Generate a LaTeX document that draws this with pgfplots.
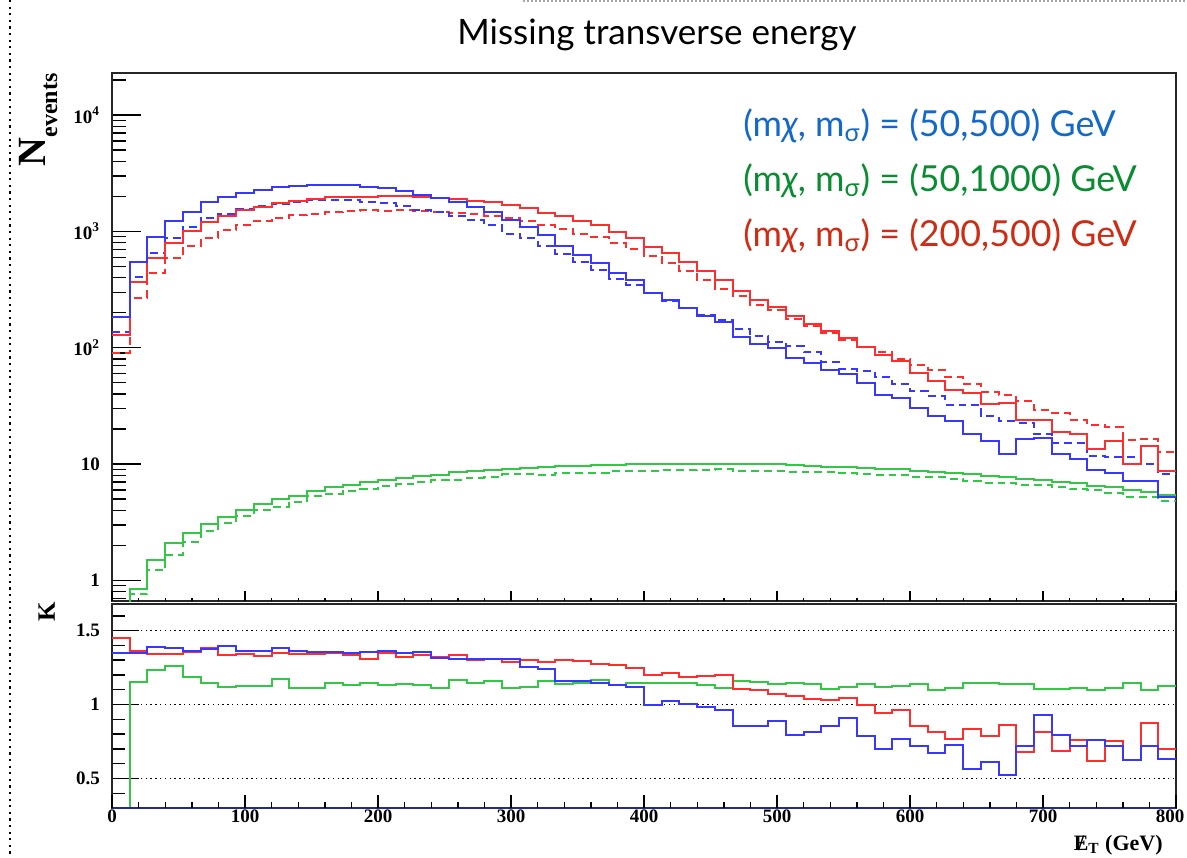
\documentclass[border=0pt]{standalone}
\usepackage{fontspec}
\setmainfont{Liberation Serif}
\newfontfamily\gill{Lato}
\usepackage{pgfplots}
\usepackage{pgfplotstable}
\pgfplotsset{compat=1.18}
\definecolor{hblue}{RGB}{55,55,255}
\definecolor{hred}{RGB}{255,45,45}
\definecolor{hgreen}{RGB}{50,200,70}
\definecolor{tblue}{RGB}{20,105,200}
\definecolor{tgreen}{RGB}{10,140,50}
\definecolor{tred}{RGB}{205,45,20}
\definecolor{navy}{RGB}{40,40,140}

\pgfplotstableread{
x bs bd rs rd gs gd kb kr kg
0 183 136 130 89.5 0.1 0.1 1.346 1.453 0
13.333 545 405 367 269 0.85 0.76 1.346 1.362 1.154
26.667 904 651 590 440 1.50 1.22 1.389 1.34 1.233
40 1224 884 793 590 2.09 1.66 1.385 1.345 1.26
53.333 1482 1088 1012 747 2.54 2.14 1.362 1.355 1.186
66.667 1780 1295 1217 879 3.06 2.68 1.374 1.385 1.143
80 1990 1425 1361 1021 3.49 3.12 1.396 1.333 1.118
93.333 2126 1561 1532 1143 4.04 3.6 1.362 1.34 1.122
106.667 2271 1667 1634 1230 4.54 4.03 1.362 1.328 1.126
120 2393 1734 1771 1312 5.01 4.28 1.38 1.35 1.17
133.333 2456 1806 1840 1373 5.28 4.74 1.36 1.34 1.113
146.667 2506 1849 1903 1416 5.91 5.31 1.355 1.344 1.113
160 2506 1849 1978 1465 6.31 5.52 1.355 1.35 1.143
173.333 2506 1856 1978 1485 6.65 5.89 1.35 1.332 1.129
186.667 2427 1791 1990 1524 6.96 6.07 1.355 1.306 1.147
200 2378 1746 2031 1504 7.3 6.47 1.362 1.35 1.129
213.333 2228 1655 2031 1534 7.6 6.69 1.346 1.324 1.136
226.667 2058 1519 1990 1494 7.9 7.0 1.355 1.332 1.129
240 1926 1462 1950 1473 8.1 7.28 1.317 1.324 1.113
253.333 1780 1359 1903 1429 8.47 7.27 1.31 1.332 1.165
266.667 1624 1243 1840 1416 8.64 7.56 1.306 1.299 1.143
280 1482 1135 1780 1359 8.89 7.68 1.306 1.31 1.158
293.333 1257 960 1680 1302 9.06 8.14 1.31 1.29 1.113
306.667 1101 879 1600 1230 9.24 8.25 1.253 1.301 1.12
320 935 755 1452 1127 9.4 8.12 1.238 1.288 1.158
333.333 743 642 1360 1045 9.55 8.41 1.158 1.301 1.136
346.667 630 544 1233 953 9.7 8.46 1.158 1.294 1.147
360 535 468 1138 895 9.8 8.43 1.143 1.272 1.163
373.333 439 389 998 789 9.9 8.77 1.129 1.265 1.129
386.667 385 344 887 710 10.0 8.75 1.12 1.25 1.143
400 296 296 742 620 10.05 8.79 1.0 1.197 1.143
413.333 259 252 651 536 10.1 8.84 1.027 1.215 1.143
426.667 220 219 542 456 10.1 8.84 1.005 1.188 1.143
440 187 190 453 380 10.1 8.95 0.984 1.192 1.129
453.333 166 173 385 322 10.05 9.03 0.962 1.197 1.113
466.667 124 145 305 277 10.05 8.68 0.853 1.102 1.158
480 108 127 259 235 10.0 8.7 0.853 1.1 1.15
493.333 100 113 224 210 10.0 8.8 0.887 1.068 1.136
506.667 82 103 187 177 9.9 8.63 0.796 1.057 1.147
520 74.3 91.5 160 154 9.7 8.54 0.812 1.038 1.136
533.333 63.9 74.9 139 135 9.5 8.62 0.853 1.029 1.102
546.667 59.8 65.7 122 117 9.4 8.39 0.91 1.041 1.12
560 50 63.7 102 102 9.3 8.16 0.785 1.0 1.14
573.333 39.3 56 87.5 92.8 9.1 8.13 0.701 0.943 1.12
586.667 37.3 48.6 76.8 79.8 9.0 8.0 0.767 0.962 1.124
600 30.6 42.7 61 71.5 8.8 7.75 0.717 0.853 1.136
613.333 25.9 38.5 51.8 63.8 8.5 7.75 0.672 0.812 1.097
626.667 23.5 32.5 43 56.1 8.35 7.5 0.724 0.767 1.113
640 18.1 32.1 41 49.1 8.2 7.15 0.563 0.835 1.147
653.333 15.8 25.9 33 41.8 7.95 6.93 0.611 0.79 1.147
666.667 12.2 23.5 33.7 39 7.8 6.87 0.52 0.864 1.136
680 16.4 22.7 23.8 35.2 7.5 6.6 0.722 0.677 1.136
693.333 16.9 18.2 23.8 29.3 7.3 6.6 0.928 0.812 1.106
706.667 12.2 15.3 18.7 27.4 7.05 6.4 0.796 0.683 1.102
720 11.0 15.3 18.3 24 6.85 6.15 0.717 0.762 1.113
733.333 8.9 11.7 13.4 21.6 6.5 5.93 0.758 0.62 1.097
746.667 8.3 11.5 15.8 21 6.3 5.66 0.722 0.751 1.113
760 7.2 11.5 10.1 16.1 6.0 5.23 0.626 0.626 1.147
773.333 7.2 10.0 14.3 16.3 5.7 5.2 0.722 0.876 1.097
786.667 5.2 8.2 8.8 12.6 5.4 4.8 0.633 0.701 1.124
800 5.2 8.2 8.8 12.6 5.4 4.8 0.633 0.701 1.124
}\data

\begin{document}
\begin{tikzpicture}
\useasboundingbox (0,0) rectangle (593.5pt,428.5pt);
\pgfplotsset{
  every axis/.append style={
    scale only axis, width=532pt, xmin=0, xmax=800,
    axis line style={line width=0.9pt, black!85},
    tick style={line width=0.7pt, black},
    tick align=inside,
    ticklabel style={font=\fontsize{9.5}{9.5}\selectfont\bfseries},
  },
  hist/.style={const plot mark left, line width=1pt, mark=none},
  dsh/.style={dash pattern=on 4pt off 2.5pt},
}
% ---------------- top panel ----------------
\begin{axis}[at={(56pt,128pt)}, anchor=south west, height=264pt,
  ymode=log, ymin=0.665, ymax=23040,
  xtick=\empty, ytick pos=left,
  ytick={1,10,100,1000,10000},
  yticklabels={1,10,10\textsuperscript{2},10\textsuperscript{3},10\textsuperscript{4}},
  minor ytick={0.7,0.8,0.9,2,3,...,9,20,30,...,90,200,300,...,900,2000,3000,...,9000,20000},
  major tick length=14.5pt, minor tick length=7pt,
  yticklabel style={xshift=-2.5pt}]
\addplot[hist, hgreen, dsh] table[x=x,y=gd]{\data};
\addplot[hist, hgreen] table[x=x,y=gs]{\data};
\addplot[hist, hred, dsh] table[x=x,y=rd]{\data};
\addplot[hist, hblue, dsh] table[x=x,y=bd]{\data};
\addplot[hist, hred] table[x=x,y=rs]{\data};
\addplot[hist, hblue] table[x=x,y=bs]{\data};
\end{axis}
\begin{axis}[at={(56pt,128pt)}, anchor=south west, height=264pt,
  ymin=0, ymax=1, ytick=\empty, axis line style={draw=none},
  xtick={0,100,...,800}, minor x tick num=4, xticklabels=\empty, xtick pos=left,
  major tick length=5pt, minor tick length=1.5pt]
\end{axis}
% ---------------- bottom panel ----------------
\begin{axis}[at={(56pt,24.5pt)}, anchor=south west, height=102pt,
  ymin=0.3, ymax=1.68, xtick=\empty, ytick pos=left,
  ytick={0.5,1,1.5}, yticklabels={0.5,1,1.5},
  minor ytick={0.4,0.6,0.7,0.8,0.9,1.1,1.2,1.3,1.4,1.6},
  major tick length=13.5pt, minor tick length=6.5pt,
  ymajorgrids, major grid style={black, line width=0.6pt, dash pattern=on 0.7pt off 1.7pt},
  yticklabel style={xshift=-2.5pt}]
\addplot[hist, hgreen] table[x=x,y=kg]{\data};
\addplot[hist, hred] table[x=x,y=kr]{\data};
\addplot[hist, hblue] table[x=x,y=kb]{\data};
\addplot[navy, line width=1.2pt] coordinates {(0,0.3) (800,0.3)};
\end{axis}
\begin{axis}[at={(56pt,24.5pt)}, anchor=south west, height=102pt,
  ymin=0, ymax=1, ytick=\empty, axis line style={draw=none},
  xtick={0,100,...,800}, minor x tick num=4, xtick pos=left,
  xticklabels={0,100,200,300,400,500,600,700,\makebox[0pt]{\hspace{-6pt}800}},
  xticklabel style={yshift=2.5pt},
  major tick length=6.5pt, minor tick length=3pt]
\end{axis}
% ---------------- texts (pixel coordinates) ----------------
\begin{scope}[x=0.5pt, y=-0.5pt, yshift=428.5pt]
\draw[black, line width=1.1pt, dash pattern=on 1.1pt off 2.2pt] (10,0) -- (10,857);
\draw[black!35, line width=0.6pt, dash pattern=on 0.8pt off 1.2pt] (523,1) -- (1187,1);
\node[anchor=base, inner sep=0] at (657,45) {\gill\fontsize{17.5}{17.5}\selectfont Missing transverse energy};
\node[anchor=base west, inner sep=0, text=tblue] at (743,136.7)
  {\gill\fontsize{17.9}{17.9}\selectfont (m{\itshape χ}, m\textsubscript{σ}) = (50,500) GeV};
\node[anchor=base west, inner sep=0, text=tgreen] at (743,191.7)
  {\gill\fontsize{17.9}{17.9}\selectfont (m{\itshape χ}, m\textsubscript{σ}) = (50,1000) GeV};
\node[anchor=base west, inner sep=0, text=tred] at (743,246.7)
  {\gill\fontsize{17.9}{17.9}\selectfont (m{\itshape χ}, m\textsubscript{σ}) = (200,500) GeV};
\node[rotate=90, anchor=base east, inner sep=0] at (45,73)
  {\bfseries\fontsize{20}{20}\selectfont N\raisebox{-6pt}{\fontsize{12}{12}\selectfont events}};
\node[rotate=90, anchor=base east, inner sep=0] at (55,602)
  {\bfseries\fontsize{12.5}{12.5}\selectfont K};
\node[anchor=base east, inner sep=0] at (1163,850)
  {\bfseries\fontsize{11}{11}\selectfont \ooalign{E\cr\hfil/\hfil}\textsubscript{T} (GeV)};
\end{scope}
\end{tikzpicture}
\end{document}
